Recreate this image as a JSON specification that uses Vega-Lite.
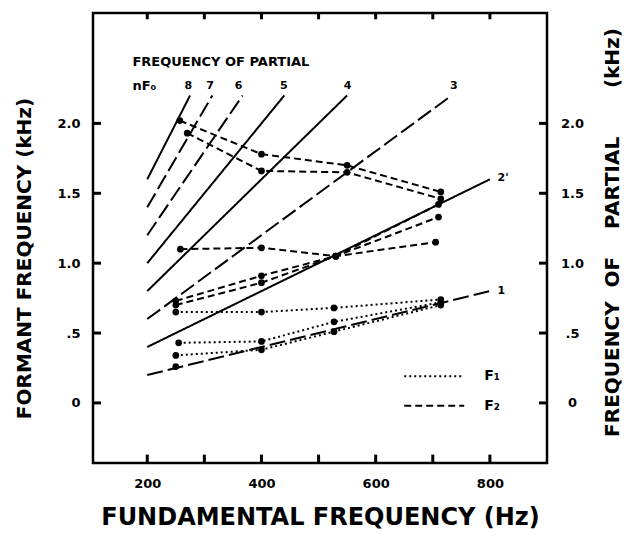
{
  "$schema": "https://vega.github.io/schema/vega-lite/v6.json",
  "width": 454,
  "height": 450,
  "autosize": {"type": "none"},
  "padding": {"left": 93, "top": 13, "right": 82, "bottom": 79},
  "background": "white",
  "config": {
    "view": {"stroke": "black", "strokeWidth": 2.5},
    "font": "DejaVu Sans",
    "axis": {"labelColor": "black", "titleColor": "black", "ticks": false, "grid": false, "domain": false}
  },
  "datasets": {
    "harmonics": [
      {"n": 1, "style": "long", "f0": 200, "f": 0.2}, {"n": 1, "style": "long", "f0": 800, "f": 0.8},
      {"n": 2, "style": "solid", "f0": 200, "f": 0.4}, {"n": 2, "style": "solid", "f0": 800, "f": 1.6},
      {"n": 3, "style": "long", "f0": 200, "f": 0.6}, {"n": 3, "style": "long", "f0": 733, "f": 2.2},
      {"n": 4, "style": "solid", "f0": 200, "f": 0.8}, {"n": 4, "style": "solid", "f0": 550, "f": 2.2},
      {"n": 5, "style": "solid", "f0": 200, "f": 1.0}, {"n": 5, "style": "solid", "f0": 440, "f": 2.2},
      {"n": 6, "style": "long", "f0": 200, "f": 1.2}, {"n": 6, "style": "long", "f0": 367, "f": 2.2},
      {"n": 7, "style": "long", "f0": 200, "f": 1.4}, {"n": 7, "style": "long", "f0": 314, "f": 2.2},
      {"n": 8, "style": "solid", "f0": 200, "f": 1.6}, {"n": 8, "style": "solid", "f0": 275, "f": 2.2}
    ],
    "formants": [
      {"series": "F1a", "formant": "F1", "f0": 250, "f": 0.65}, {"series": "F1a", "formant": "F1", "f0": 400, "f": 0.65}, {"series": "F1a", "formant": "F1", "f0": 527, "f": 0.68}, {"series": "F1a", "formant": "F1", "f0": 714, "f": 0.74},
      {"series": "F1b", "formant": "F1", "f0": 255, "f": 0.43}, {"series": "F1b", "formant": "F1", "f0": 400, "f": 0.44}, {"series": "F1b", "formant": "F1", "f0": 527, "f": 0.58}, {"series": "F1b", "formant": "F1", "f0": 714, "f": 0.72},
      {"series": "F1c", "formant": "F1", "f0": 250, "f": 0.34}, {"series": "F1c", "formant": "F1", "f0": 400, "f": 0.38}, {"series": "F1c", "formant": "F1", "f0": 527, "f": 0.51}, {"series": "F1c", "formant": "F1", "f0": 714, "f": 0.70},
      {"series": "F2a", "formant": "F2", "f0": 257, "f": 2.02}, {"series": "F2a", "formant": "F2", "f0": 400, "f": 1.78}, {"series": "F2a", "formant": "F2", "f0": 550, "f": 1.70}, {"series": "F2a", "formant": "F2", "f0": 714, "f": 1.51},
      {"series": "F2b", "formant": "F2", "f0": 270, "f": 1.93}, {"series": "F2b", "formant": "F2", "f0": 400, "f": 1.66}, {"series": "F2b", "formant": "F2", "f0": 550, "f": 1.65}, {"series": "F2b", "formant": "F2", "f0": 714, "f": 1.46},
      {"series": "F2c", "formant": "F2", "f0": 258, "f": 1.10}, {"series": "F2c", "formant": "F2", "f0": 400, "f": 1.11}, {"series": "F2c", "formant": "F2", "f0": 530, "f": 1.05}, {"series": "F2c", "formant": "F2", "f0": 705, "f": 1.15},
      {"series": "F2d", "formant": "F2", "f0": 250, "f": 0.73}, {"series": "F2d", "formant": "F2", "f0": 400, "f": 0.91}, {"series": "F2d", "formant": "F2", "f0": 530, "f": 1.05}, {"series": "F2d", "formant": "F2", "f0": 710, "f": 1.42},
      {"series": "F2e", "formant": "F2", "f0": 250, "f": 0.70}, {"series": "F2e", "formant": "F2", "f0": 400, "f": 0.86}, {"series": "F2e", "formant": "F2", "f0": 530, "f": 1.05}, {"series": "F2e", "formant": "F2", "f0": 710, "f": 1.33}
    ],
    "extraPoints": [
      {"f0": 250, "f": 0.26}
    ],
    "frameTicks": [
      {"f0": 200, "f0end": 200, "f": -0.43, "fend": -0.37}, {"f0": 300, "f0end": 300, "f": -0.43, "fend": -0.37},
      {"f0": 400, "f0end": 400, "f": -0.43, "fend": -0.37}, {"f0": 500, "f0end": 500, "f": -0.43, "fend": -0.37},
      {"f0": 600, "f0end": 600, "f": -0.43, "fend": -0.37}, {"f0": 700, "f0end": 700, "f": -0.43, "fend": -0.37},
      {"f0": 800, "f0end": 800, "f": -0.43, "fend": -0.37},
      {"f0": 200, "f0end": 200, "f": 2.79, "fend": 2.745}, {"f0": 300, "f0end": 300, "f": 2.79, "fend": 2.745},
      {"f0": 400, "f0end": 400, "f": 2.79, "fend": 2.745}, {"f0": 500, "f0end": 500, "f": 2.79, "fend": 2.745},
      {"f0": 600, "f0end": 600, "f": 2.79, "fend": 2.745}, {"f0": 700, "f0end": 700, "f": 2.79, "fend": 2.745},
      {"f0": 800, "f0end": 800, "f": 2.79, "fend": 2.745},
      {"f0": 105, "f0end": 119, "f": 0, "fend": 0}, {"f0": 105, "f0end": 119, "f": 0.5, "fend": 0.5},
      {"f0": 105, "f0end": 119, "f": 1.0, "fend": 1.0}, {"f0": 105, "f0end": 119, "f": 1.5, "fend": 1.5},
      {"f0": 105, "f0end": 119, "f": 2.0, "fend": 2.0},
      {"f0": 886, "f0end": 900, "f": 0, "fend": 0}, {"f0": 886, "f0end": 900, "f": 0.5, "fend": 0.5},
      {"f0": 886, "f0end": 900, "f": 1.0, "fend": 1.0}, {"f0": 886, "f0end": 900, "f": 1.5, "fend": 1.5},
      {"f0": 886, "f0end": 900, "f": 2.0, "fend": 2.0}
    ],
    "legendLines": [
      {"formant": "F1", "f0": 650, "f0end": 755, "f": 0.19},
      {"formant": "F2", "f0": 650, "f0end": 755, "f": -0.02}
    ],
    "legendLabels": [
      {"label": "F₁", "f0": 790, "f": 0.19},
      {"label": "F₂", "f0": 790, "f": -0.02}
    ],
    "header": [
      {"label": "FREQUENCY OF PARTIAL", "f0": 174, "f": 2.44},
      {"label": "nF₀", "f0": 174, "f": 2.27}
    ],
    "partialLabels": [
      {"label": "8", "f0": 272, "f": 2.27},
      {"label": "7", "f0": 310, "f": 2.27},
      {"label": "6", "f0": 360, "f": 2.27},
      {"label": "5", "f0": 439, "f": 2.27},
      {"label": "4", "f0": 551, "f": 2.27},
      {"label": "3", "f0": 737, "f": 2.27},
      {"label": "2'", "f0": 823, "f": 1.61},
      {"label": "1", "f0": 820, "f": 0.80}
    ]
  },
  "encoding": {
    "x": {
      "field": "f0", "type": "quantitative",
      "scale": {"domain": [105, 900], "nice": false, "zero": false},
      "axis": {
        "values": [200, 400, 600, 800],
        "format": "d",
        "labelPadding": 14, "labelFontSize": 13, "labelFontWeight": "bold",
        "title": "FUNDAMENTAL FREQUENCY (Hz)",
        "titleFontSize": 24, "titleFontWeight": "bold",
        "titleY": 54, "titleBaseline": "middle"
      }
    }
  },
  "layer": [
    {
      "data": {"name": "harmonics"},
      "mark": {"type": "line", "color": "black", "strokeWidth": 2},
      "encoding": {
        "y": {
          "field": "f", "type": "quantitative",
          "scale": {"domain": [-0.43, 2.79], "nice": false, "zero": false},
          "axis": {
            "values": [0, 0.5, 1, 1.5, 2],
            "labelExpr": "datum.value === 0 ? '0' : (datum.value === 0.5 ? '.5' : format(datum.value, '.1f'))",
            "labelPadding": 13, "labelFontSize": 13, "labelFontWeight": "bold",
            "title": "FORMANT FREQUENCY (kHz)",
            "titleFontSize": 20, "titleFontWeight": "bold",
            "titleAngle": 270, "titleX": -69, "titleY": 245, "titleBaseline": "middle"
          }
        },
        "detail": {"field": "n", "type": "nominal"},
        "strokeDash": {
          "field": "style", "type": "nominal",
          "scale": {"domain": ["solid", "long"], "range": [[1, 0], [16, 5]]},
          "legend": null
        }
      }
    },
    {
      "data": {"name": "formants"},
      "mark": {"type": "line", "color": "black", "strokeWidth": 2},
      "encoding": {
        "y": {"field": "f", "type": "quantitative", "scale": {"domain": [-0.43, 2.79], "nice": false, "zero": false}, "axis": null},
        "detail": {"field": "series", "type": "nominal"},
        "strokeDash": {
          "field": "formant", "type": "nominal",
          "scale": {"domain": ["F1", "F2"], "range": [[2, 3], [7, 4]]},
          "legend": null
        }
      }
    },
    {
      "data": {"name": "formants"},
      "mark": {"type": "circle", "color": "black", "opacity": 1, "size": 45},
      "encoding": {
        "y": {
          "field": "f", "type": "quantitative",
          "scale": {"domain": [-0.43, 2.79], "nice": false, "zero": false},
          "axis": {
            "orient": "right",
            "values": [0, 0.5, 1, 1.5, 2],
            "labelExpr": "datum.value === 0 ? '0' : (datum.value === 0.5 ? '.5' : format(datum.value, '.1f'))",
            "labelAlign": "center",
            "labelPadding": 25, "labelFontSize": 13, "labelFontWeight": "bold",
            "title": "FREQUENCY\u00a0\u00a0OF\u00a0\u00a0\u00a0\u00a0PARTIAL\u00a0\u00a0\u00a0\u00a0\u00a0\u00a0\u00a0(kHz)",
            "titleFontSize": 20, "titleFontWeight": "bold",
            "titleAngle": 270, "titleX": 65, "titleY": 219, "titleBaseline": "middle"
          }
        }
      }
    },
    {
      "data": {"name": "extraPoints"},
      "mark": {"type": "circle", "color": "black", "opacity": 1, "size": 45},
      "encoding": {
        "y": {"field": "f", "type": "quantitative", "scale": {"domain": [-0.43, 2.79], "nice": false, "zero": false}, "axis": null}
      }
    },
    {
      "data": {"name": "frameTicks"},
      "mark": {"type": "rule", "color": "black", "strokeWidth": 3},
      "encoding": {
        "x2": {"field": "f0end"},
        "y": {"field": "f", "type": "quantitative", "scale": {"domain": [-0.43, 2.79], "nice": false, "zero": false}, "axis": null},
        "y2": {"field": "fend"}
      }
    },
    {
      "data": {"name": "legendLines"},
      "mark": {"type": "rule", "color": "black", "strokeWidth": 2},
      "encoding": {
        "x2": {"field": "f0end"},
        "y": {"field": "f", "type": "quantitative", "scale": {"domain": [-0.43, 2.79], "nice": false, "zero": false}, "axis": null},
        "strokeDash": {
          "field": "formant", "type": "nominal",
          "scale": {"domain": ["F1", "F2"], "range": [[2, 3], [7, 4]]},
          "legend": null
        }
      }
    },
    {
      "data": {"name": "legendLabels"},
      "mark": {"type": "text", "color": "black", "fontSize": 14, "fontWeight": "bold", "align": "left", "baseline": "middle"},
      "encoding": {
        "y": {"field": "f", "type": "quantitative", "scale": {"domain": [-0.43, 2.79], "nice": false, "zero": false}, "axis": null},
        "text": {"field": "label"}
      }
    },
    {
      "data": {"name": "header"},
      "mark": {"type": "text", "color": "black", "fontSize": 13, "fontWeight": "bold", "align": "left", "baseline": "middle"},
      "encoding": {
        "y": {"field": "f", "type": "quantitative", "scale": {"domain": [-0.43, 2.79], "nice": false, "zero": false}, "axis": null},
        "text": {"field": "label"}
      }
    },
    {
      "data": {"name": "partialLabels"},
      "mark": {"type": "text", "color": "black", "fontSize": 11, "fontWeight": "bold", "align": "center", "baseline": "middle"},
      "encoding": {
        "y": {"field": "f", "type": "quantitative", "scale": {"domain": [-0.43, 2.79], "nice": false, "zero": false}, "axis": null},
        "text": {"field": "label"}
      }
    }
  ],
  "resolve": {"scale": {"y": "independent", "strokeDash": "independent"}}
}
